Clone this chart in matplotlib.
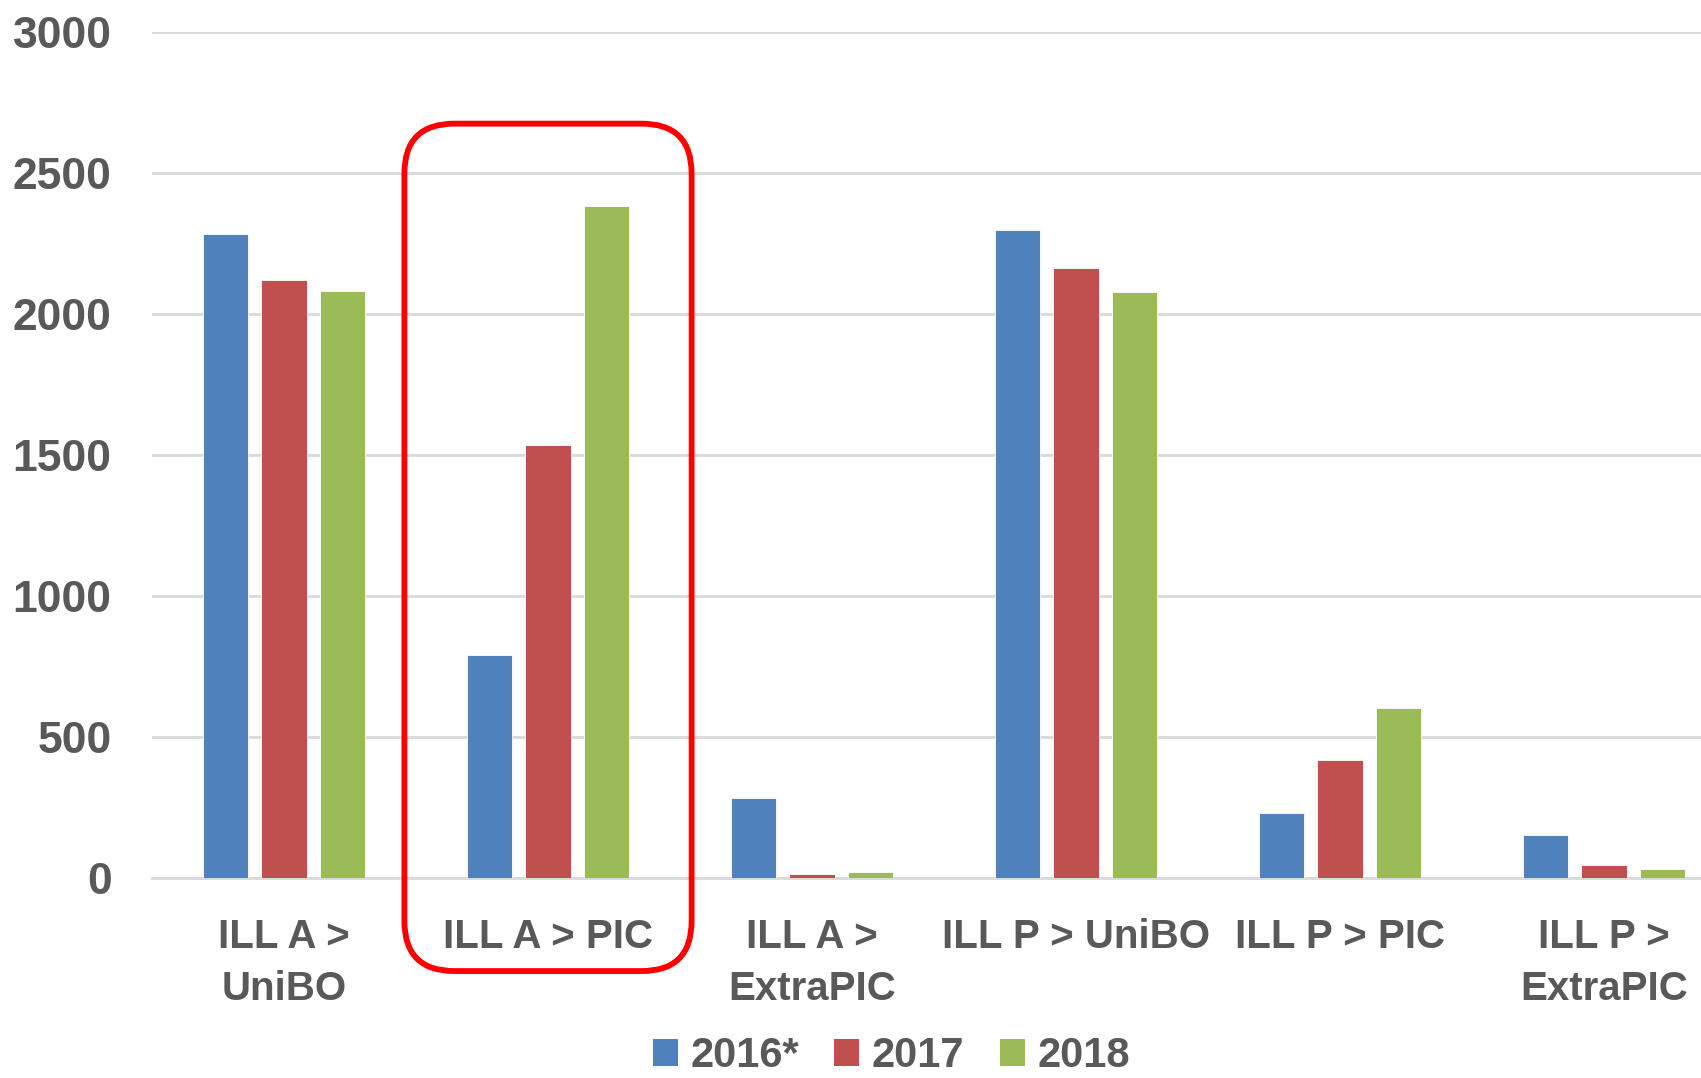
import matplotlib
matplotlib.use("Agg")
import matplotlib.pyplot as plt
import numpy as np
from matplotlib.patches import FancyBboxPatch, Patch

categories = ["ILL A >\nUniBO", "ILL A > PIC", "ILL A >\nExtraPIC",
              "ILL P > UniBO", "ILL P > PIC", "ILL P >\nExtraPIC"]
series_names = ["2016*", "2017", "2018"]
values_2016 = [2285, 791, 284, 2297, 232, 151]
values_2017 = [2120, 1536, 14, 2163, 417, 46]
values_2018 = [2082, 2382, 20, 2078, 603, 33]
colors = ["#4F81BD", "#C0504D", "#9BBB59"]

TEXT = "#595959"
FONT = "Liberation Sans"

# the plot area runs past the right edge of the picture (cropped slide)
fig = plt.figure(figsize=(17.01, 10.78), dpi=100, facecolor="white")
ax = fig.add_axes([152 / 1701, 200 / 1078, 1584 / 1701, 846 / 1078])

x = np.arange(len(categories))
width = 0.173
step = 0.222
for i, (vals, name) in enumerate(zip([values_2016, values_2017, values_2018], series_names)):
    ax.bar(x + (i - 1) * step, vals, width, color=colors[i], label=name,
           edgecolor="white", linewidth=0.6, zorder=3)

ax.set_xlim(-0.5, len(categories) - 0.5)
ax.set_ylim(0, 3000)
ax.set_yticks(range(0, 3001, 500))
ax.grid(axis="y", color="#d9d9d9", linewidth=2, zorder=0)
for side in ["top", "right", "left"]:
    ax.spines[side].set_visible(False)
ax.spines["bottom"].set_color("#d9d9d9")
ax.spines["bottom"].set_linewidth(2)
ax.tick_params(axis="both", length=0)
ax.tick_params(axis="y", pad=29)
ax.tick_params(axis="x", pad=29)
ax.set_xticks(x)
ax.set_xticklabels(categories, linespacing=1.45)
for lab in ax.get_yticklabels():
    lab.set_fontsize(32)
for lab in ax.get_xticklabels():
    lab.set_fontsize(29)
for lab in ax.get_yticklabels() + ax.get_xticklabels():
    lab.set_fontweight("bold")
    lab.set_color(TEXT)
    lab.set_family(FONT)

# rounded red highlight around the second group
px_x = 264.0
px_y = 846 / 3000
radius = 50
box = FancyBboxPatch((1 - 0.544, -330), 1.088, 2675 + 330,
                     boxstyle=f"round,pad=0,rounding_size={radius / px_x}",
                     mutation_aspect=px_x / px_y,
                     transform=ax.transData, clip_on=False,
                     facecolor="none", edgecolor="#FF0000", linewidth=4.2, zorder=5)
ax.add_patch(box)

handles = [Patch(facecolor=c, edgecolor="none", label=n) for c, n in zip(colors, series_names)]
fig.legend(handles=handles, loc="lower center", bbox_to_anchor=(0.524, -0.033), ncol=3,
           frameon=False, handlelength=0.6, handleheight=0.6, handletextpad=0.3,
           columnspacing=0.85, prop={"family": FONT, "weight": "bold", "size": 30},
           labelcolor=TEXT)

fig.savefig("out.png", dpi=100, facecolor="white")
